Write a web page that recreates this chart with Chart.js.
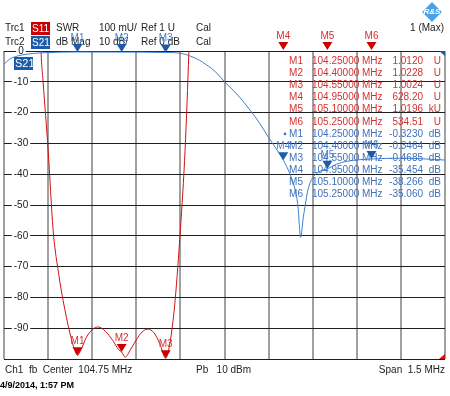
<!DOCTYPE html>
<html lang="en">
<head>
<meta charset="UTF-8" />
<title>S11 / S21</title>
<script src="https://cdn.jsdelivr.net/npm/chart.js@4.4.1/dist/chart.umd.min.js"></script>
<style>
  html, body { margin: 0; padding: 0; background: #fff; }
  canvas { display: block; }
</style>
</head>
<body>
<canvas id="chart" width="450" height="396"></canvas>
<script>
// grid: center 104.75 MHz, span 1.5 MHz, 10 divisions
const xGrid = [104.0, 104.15, 104.3, 104.45, 104.6, 104.75, 104.9, 105.05, 105.2, 105.35, 105.5];
const yGrid = [-100, -90, -80, -70, -60, -50, -40, -30, -20, -10, 0];
const yTickLabels = ["-90", "-80", "-70", "-60", "-50", "-40", "-30", "-20", "-10", "0"];
const yTickValues = [-90, -80, -70, -60, -50, -40, -30, -20, -10, 0];

// Trc1 S11, SWR (Ref 1 U at bottom, 100 mU/div)
const s11Freq = [104.0, 104.06, 104.1, 104.126, 104.133, 104.15, 104.167, 104.187, 104.201, 104.224, 104.24, 104.25,
  104.262, 104.28, 104.3, 104.32, 104.345, 104.37, 104.39, 104.4, 104.412, 104.43, 104.455, 104.475, 104.49,
  104.51, 104.53, 104.55, 104.56, 104.571, 104.582, 104.6, 104.616, 104.629, 104.65, 104.7, 104.8, 104.95,
  105.1, 105.25, 105.5];
const s11Swr = [60, 8, 3.0, 2.0, 1.9, 1.68, 1.42, 1.27, 1.19, 1.085, 1.03, 1.012,
  1.03, 1.07, 1.095, 1.104, 1.09, 1.06, 1.03, 1.0228, 1.006, 1.03, 1.07, 1.092, 1.097,
  1.085, 1.05, 1.0024, 1.03, 1.094, 1.19, 1.42, 1.68, 2.0, 2.6, 6, 40, 628.2,
  1019.6, 534.51, 200];

// Trc2 S21, dB Mag (Ref 0 dB at top, 10 dB/div)
const s21Freq = [104.0, 104.02, 104.04, 104.06, 104.1, 104.15, 104.25, 104.4, 104.55, 104.58, 104.6, 104.62,
  104.643, 104.665, 104.684, 104.705, 104.724, 104.752, 104.78, 104.803, 104.837, 104.87, 104.898, 104.925,
  104.95, 104.973, 104.99, 105.0, 105.009, 105.018, 105.024, 105.034, 105.051, 105.075, 105.1, 105.13,
  105.167, 105.25, 105.357, 105.5];
const s21Db = [-4.3, -2.6, -1.8, -1.3, -0.8, -0.5, -0.323, -0.3464, -0.4685, -0.55, -0.75, -1.2,
  -2.0, -3.0, -4.2, -5.6, -7.2, -10.2, -12.8, -15.2, -19.2, -23.5, -27.8, -31.6,
  -35.454, -40.0, -45.0, -50.5, -60.5, -54, -50.5, -45, -41, -39, -38.266, -36.8,
  -35.8, -35.06, -34.8, -35.4];

// markers
const markerNames = ["M1", "M2", "M3", "M4", "M5", "M6"];
const markerFreqText = ["104.25000", "104.40000", "104.55000", "104.95000", "105.10000", "105.25000"];
const markerFreq = [104.25, 104.40, 104.55, 104.95, 105.10, 105.25];
const s11MarkerVal = [1.0120, 1.0228, 1.0024, 628.20, 1019.6, 534.51];
const s11MarkerText = ["1.0120", "1.0228", "1.0024", "628.20", "1.0196", "534.51"];
const s11MarkerUnit = ["U", "U", "U", "U", "kU", "U"];
const s21MarkerVal = [-0.3230, -0.3464, -0.4685, -35.454, -38.266, -35.060];
const s21MarkerText = ["-0.3230", "-0.3464", "-0.4685", "-35.454", "-38.266", "-35.060"];

const RED = "#d01010";
const RED_TXT = "#d43030";
const BLUE = "#3a7fd0";
const BLUE_TXT = "#3f70bd";
const FONT = '"Liberation Sans", Arial, sans-serif';

function toPoints(xs, ys) {
    return xs.map((x, i) => ({ x: x, y: ys[i] }));
}

function drawMarker(ctx, x, y, name, color, txtColor) {
    ctx.fillStyle = color;
    ctx.beginPath();
    ctx.moveTo(x, y);
    ctx.lineTo(x - 5, y - 8);
    ctx.lineTo(x + 5, y - 8);
    ctx.closePath();
    ctx.fill();
    ctx.fillStyle = txtColor;
    ctx.font = "10px " + FONT;
    ctx.textAlign = "center";
    ctx.textBaseline = "middle";
    ctx.fillText(name, x, y - 14);
}

function box(ctx, x, y, w, h, bg, label) {
    ctx.fillStyle = bg;
    ctx.fillRect(x, y, w, h);
    ctx.fillStyle = "#fff";
    ctx.textAlign = "left";
    ctx.fillText(label, x + 1, y + h / 2 + 0.5);
}

const overlay = {
    id: "overlay",
    afterDatasetsDraw(chart) {
        const ctx = chart.ctx;
        const xs = chart.scales.x, ys = chart.scales.y, ys2 = chart.scales.y2;
        const area = chart.chartArea;
        ctx.save();

        // y tick labels inside the plot
        ctx.font = "10px " + FONT;
        ctx.textBaseline = "middle";
        ctx.textAlign = "center";
        yTickValues.forEach((v, i) => {
            const py = ys.getPixelForValue(v);
            const w = ctx.measureText(yTickLabels[i]).width;
            ctx.fillStyle = "#fff";
            ctx.fillRect(21 - w / 2 - 2, py - 1, w + 4, 2);
            ctx.fillStyle = "#222";
            ctx.fillText(yTickLabels[i], 21, py);
        });

        // corner flags
        ctx.fillStyle = "#1b5ba8";
        ctx.beginPath();
        ctx.moveTo(area.right - 6, area.top);
        ctx.lineTo(area.right, area.top);
        ctx.lineTo(area.right, area.top + 5);
        ctx.fill();
        ctx.fillStyle = RED;
        ctx.beginPath();
        ctx.moveTo(area.right, area.bottom - 5);
        ctx.lineTo(area.right, area.bottom);
        ctx.lineTo(area.right - 6, area.bottom);
        ctx.fill();

        // S21 trace tag
        ctx.font = "11px " + FONT;
        ctx.textBaseline = "middle";
        box(ctx, 14, 57, 19, 13, "#1b5ba8", "S21");

        // marker table
        ctx.font = "10px " + FONT;
        for (let i = 0; i < 12; i++) {
            const k = i % 6;
            const py = 61 + i * 12.15;
            const s11 = i < 6;
            ctx.fillStyle = s11 ? RED_TXT : BLUE_TXT;
            ctx.textAlign = "right";
            ctx.fillText(markerNames[k], 303, py);
            ctx.textAlign = "left";
            ctx.fillText(markerFreqText[k], 312, py);
            ctx.fillText("MHz", 362, py);
            ctx.textAlign = "right";
            ctx.fillText(s11 ? s11MarkerText[k] : s21MarkerText[k], 423, py);
            ctx.fillText(s11 ? s11MarkerUnit[k] : "dB", 441, py);
            if (i === 6) {
                ctx.beginPath();
                ctx.arc(285, py, 1.3, 0, Math.PI * 2);
                ctx.fill();
            }
        }

        // markers on traces
        markerFreq.forEach((f, i) => {
            const px = xs.getPixelForValue(f);
            let py1 = Math.max(ys2.getPixelForValue(s11MarkerVal[i]), area.top - 1);
            drawMarker(ctx, px, py1, markerNames[i], "#cc0000", RED_TXT);
            let py2 = Math.max(ys.getPixelForValue(s21MarkerVal[i]), area.top);
            drawMarker(ctx, px, py2, markerNames[i], "#1b5ba8", "#4a80c8");
        });
        ctx.restore();
    },
    beforeDraw(chart) {
        const ctx = chart.ctx;
        ctx.save();
        ctx.font = "10px " + FONT;
        ctx.textBaseline = "middle";
        ctx.fillStyle = "#222";
        ctx.textAlign = "left";
        ctx.fillText("Trc1", 5, 28);
        ctx.fillText("Trc2", 5, 42);
        box(ctx, 31, 22, 19, 13, "#c80000", "S11");
        box(ctx, 31, 36, 19, 13, "#1b5ba8", "S21");
        ctx.fillStyle = "#222";
        ctx.textAlign = "left";
        ctx.fillText("SWR", 56, 28);
        ctx.fillText("dB Mag", 56, 42);
        ctx.fillText("100 mU/", 99, 28);
        ctx.fillText("10 dB/", 99, 42);
        ctx.fillText("Ref 1 U", 141, 28);
        ctx.fillText("Ref 0 dB", 141, 42);
        ctx.fillText("Cal", 196, 28);
        ctx.fillText("Cal", 196, 42);
        ctx.textAlign = "right";
        ctx.fillText("1 (Max)", 444, 28);

        // logo
        ctx.save();
        ctx.translate(432, 12);
        ctx.rotate(Math.PI / 4);
        ctx.fillStyle = "#4aa3ea";
        ctx.fillRect(-7, -7, 14, 14);
        ctx.restore();
        ctx.fillStyle = "#fff";
        ctx.font = "italic bold 8px " + FONT;
        ctx.textAlign = "center";
        ctx.fillText("R&S", 432, 12);

        // footer
        ctx.fillStyle = "#222";
        ctx.font = "10px " + FONT;
        ctx.textAlign = "left";
        ctx.fillText("Ch1  fb  Center  104.75 MHz", 5, 370);
        ctx.fillText("Pb   10 dBm", 196, 370);
        ctx.textAlign = "right";
        ctx.fillText("Span  1.5 MHz", 445, 370);
        ctx.textAlign = "left";
        ctx.font = "bold 9px " + FONT;
        ctx.fillStyle = "#000";
        ctx.fillText("4/9/2014, 1:57 PM", 0, 386);
        ctx.restore();
    }
};

new Chart(document.getElementById("chart"), {
    type: "line",
    data: {
        datasets: [{
            label: "S21",
            data: toPoints(s21Freq, s21Db),
            yAxisID: "y",
            borderColor: BLUE,
            borderWidth: 1,
            pointRadius: 0,
            cubicInterpolationMode: "monotone"
        }, {
            label: "S11",
            data: toPoints(s11Freq, s11Swr),
            yAxisID: "y2",
            borderColor: RED,
            borderWidth: 1,
            pointRadius: 0,
            cubicInterpolationMode: "monotone"
        }]
    },
    options: {
        responsive: false,
        animation: false,
        layout: { padding: { top: 51, left: 4, right: 5, bottom: 37 } },
        plugins: { legend: { display: false }, tooltip: { enabled: false } },
        scales: {
            x: {
                type: "linear",
                min: 104.0,
                max: 105.5,
                afterBuildTicks: s => { s.ticks = xGrid.map(v => ({ value: v })); },
                grid: { color: "#a0a0a0", lineWidth: 2, drawTicks: false },
                border: { display: false },
                ticks: { display: false }
            },
            y: {
                min: -100,
                max: 0,
                afterBuildTicks: s => { s.ticks = yGrid.map(v => ({ value: v })); },
                grid: { color: "#1e1e1e", lineWidth: 1, drawTicks: false },
                border: { display: false },
                ticks: { display: false }
            },
            y2: {
                min: 1,
                max: 2,
                display: false
            }
        }
    },
    plugins: [overlay]
});
</script>
</body>
</html>
